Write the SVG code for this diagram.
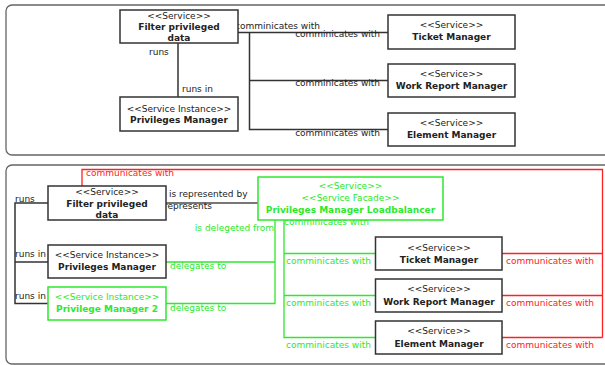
<svg xmlns="http://www.w3.org/2000/svg" width="605" height="365" viewBox="0 0 605 365">
<style>
text{font-family:"DejaVu Sans","Liberation Sans",sans-serif;font-size:9px;fill:#222}
.b{font-weight:bold}
.c{text-anchor:middle}
.e{text-anchor:end}
.g{fill:#2de82d}
.r{fill:#ff2020}
.box{fill:#fff;stroke:#333;stroke-width:1.5}
.gbox{fill:#fff;stroke:#2de82d;stroke-width:1.5}
.panel{fill:none;stroke:#666;stroke-width:1.3}
.k{fill:none;stroke:#333;stroke-width:1.5}
.gr{fill:none;stroke:#777;stroke-width:2}
.gl{fill:none;stroke:#2de82d;stroke-width:1.3}
.rl{fill:none;stroke:#ff2020;stroke-width:1.3}
</style>
<rect class="panel" x="6" y="5" width="640" height="150" rx="6"/>
<rect class="panel" x="6" y="165" width="640" height="199" rx="6"/>
<g id="connectors">
<path class="k" d="M178,43V97"/>
<text x="149" y="55">runs</text>
<text x="182" y="92">runs in</text>
<path class="k" d="M238,32.5H388M249.5,32.5V129.5H388M249.5,80.5H388"/>
<text x="235" y="29">comminicates with</text>
<text class="e" x="380" y="37">comminicates with</text>
<text class="e" x="380" y="86">comminicates with</text>
<text class="e" x="380" y="136">comminicates with</text>
<path class="rl" d="M82,186V169.5H602.5V337.5M502,253.5H602.5M502,295.5H602.5M502,337.5H602.5"/>
<text class="r" x="86" y="176">communicates with</text>
<text class="r" x="506" y="264">communicates with</text>
<text class="r" x="506" y="306">communicates with</text>
<text class="r" x="506" y="348">communicates with</text>
<path class="k" d="M48,203H15V303.5H48M15,262H48"/>
<text x="15" y="202">runs</text>
<text x="15" y="257">runs in</text>
<text x="15" y="298.5">runs in</text>
<path class="gr" d="M166,203H258"/>
<text x="169" y="197">is represented by</text>
<text x="164" y="209">represents</text>
<path class="gl" d="M166,262H275V220M166,303.5H275V262"/>
<text class="g e" x="274" y="231">is delegeted from</text>
<text class="g" x="170" y="269">delegates to</text>
<text class="g" x="170" y="311">delegates to</text>
<path class="gl" d="M284,220V337.5H375.5M284,253.5H375.5M284,295.5H375.5"/>
<text class="g" x="284" y="225">comminicates with</text>
<text class="g" x="286" y="264">comminicates with</text>
<text class="g" x="286" y="306">comminicates with</text>
<text class="g" x="286" y="348">comminicates with</text>
</g>
<g id="filter1">
<rect class="box" x="120" y="10" width="118" height="33"/>
<text class="c" x="179" y="19">&lt;&lt;Service&gt;&gt;</text>
<text class="c b" x="179" y="30">Filter privileged</text>
<text class="c b" x="179" y="41">data</text>
</g>
<g id="pm1">
<rect class="box" x="120" y="97" width="118" height="34"/>
<text class="c" x="179" y="111.5">&lt;&lt;Service Instance&gt;&gt;</text>
<text class="c b" x="179" y="122.5">Privileges Manager</text>
</g>
<g id="ticket1">
<rect class="box" x="388" y="15" width="127" height="34"/>
<text class="c" x="451.5" y="28">&lt;&lt;Service&gt;&gt;</text>
<text class="c b" x="451.5" y="40">Ticket Manager</text>
</g>
<g id="work1">
<rect class="box" x="388" y="64" width="127" height="33"/>
<text class="c" x="451.5" y="77">&lt;&lt;Service&gt;&gt;</text>
<text class="c b" x="451.5" y="89">Work Report Manager</text>
</g>
<g id="element1">
<rect class="box" x="388" y="113" width="127" height="33"/>
<text class="c" x="451.5" y="126">&lt;&lt;Service&gt;&gt;</text>
<text class="c b" x="451.5" y="138">Element Manager</text>
</g>
<g id="filter2">
<rect class="box" x="48" y="186" width="118" height="34"/>
<text class="c" x="107" y="195">&lt;&lt;Service&gt;&gt;</text>
<text class="c b" x="107" y="206.5">Filter privileged</text>
<text class="c b" x="107" y="218">data</text>
</g>
<g id="pm2">
<rect class="box" x="48" y="245" width="118" height="33"/>
<text class="c" x="107" y="258">&lt;&lt;Service Instance&gt;&gt;</text>
<text class="c b" x="107" y="269.5">Privileges Manager</text>
</g>
<g id="pmtwo">
<rect class="gbox" x="48" y="287" width="118" height="33"/>
<text class="c g" x="107" y="300">&lt;&lt;Service Instance&gt;&gt;</text>
<text class="c b g" x="107" y="312">Privilege Manager 2</text>
</g>
<g id="loadbalancer">
<rect class="gbox" x="258" y="177" width="185" height="43"/>
<text class="c g" x="350.5" y="189">&lt;&lt;Service&gt;&gt;</text>
<text class="c g" x="350.5" y="201">&lt;&lt;Service Facade&gt;&gt;</text>
<text class="c b g" x="350.5" y="213">Privileges Manager Loadbalancer</text>
</g>
<g id="ticket2">
<rect class="box" x="375.5" y="237" width="126.5" height="33"/>
<text class="c" x="439" y="250.5">&lt;&lt;Service&gt;&gt;</text>
<text class="c b" x="439" y="262.5">Ticket Manager</text>
</g>
<g id="work2">
<rect class="box" x="375.5" y="279" width="126.5" height="33"/>
<text class="c" x="439" y="292">&lt;&lt;Service&gt;&gt;</text>
<text class="c b" x="439" y="304.5">Work Report Manager</text>
</g>
<g id="element2">
<rect class="box" x="375.5" y="321" width="126.5" height="33"/>
<text class="c" x="439" y="334">&lt;&lt;Service&gt;&gt;</text>
<text class="c b" x="439" y="346.5">Element Manager</text>
</g>
</svg>
